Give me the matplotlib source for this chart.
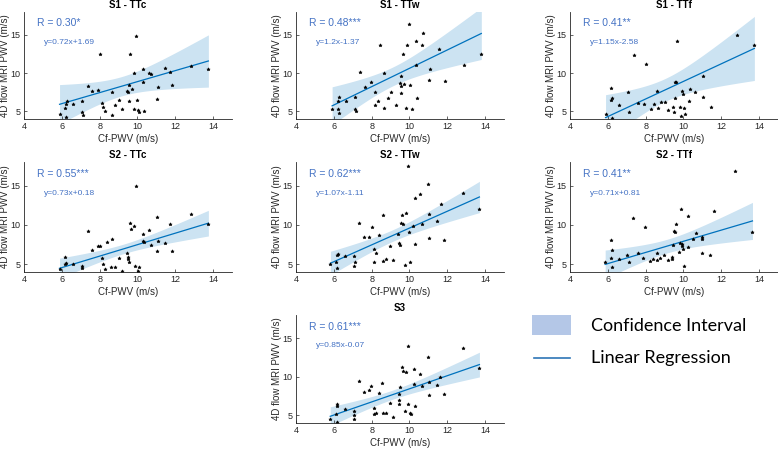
import numpy as np
import matplotlib
matplotlib.use("Agg")
import matplotlib.pyplot as plt
from matplotlib.patches import Rectangle
from matplotlib.lines import Line2D

plt.rcParams['font.family'] = ['Liberation Sans', 'DejaVu Sans']

# data (Cf-PWV vs 4D flow MRI PWV, m/s)
s1_ttc_x = [5.88, 6.18, 6.2, 6.2, 6.25, 6.59, 7.08, 7.08, 7.13, 7.37, 7.62, 7.9, 8.02, 8.15, 8.17,
            8.27, 8.63, 8.63, 8.8, 9.0, 9.2, 9.46, 9.48, 9.55, 9.57, 9.63, 9.7, 9.8, 9.84, 9.93,
            9.98, 10.03, 10.07, 10.27, 10.29, 10.33, 10.6, 10.72, 11.04, 11.07, 11.48, 11.7, 11.85, 12.85, 13.75]
s1_ttc_y = [4.64, 5.45, 5.9, 4.3, 6.4, 6.0, 6.34, 4.94, 4.47, 8.3, 7.7, 7.8, 12.5, 6.13, 5.53,
            5.1, 7.5, 4.47, 5.83, 6.5, 5.36, 7.7, 7.57, 8.47, 6.3, 12.47, 7.87, 5.3, 9.96, 14.8,
            6.5, 5.15, 4.98, 8.8, 10.5, 5.06, 9.96, 9.83, 6.64, 8.13, 10.68, 10.17, 8.47, 10.98, 10.5]

s1_ttw_x = [5.91, 6.2, 6.23, 6.27, 6.27, 6.64, 7.12, 7.12, 7.19, 7.4, 7.65, 7.94, 8.2, 8.2, 8.33,
            8.45, 8.66, 8.68, 8.86, 9.04, 9.27, 9.51, 9.53, 9.55, 9.57, 9.65, 9.73, 9.83, 9.89, 10.0,
            10.03, 10.12, 10.33, 10.35, 10.38, 10.65, 10.74, 11.06, 11.1, 11.54, 11.9, 12.88, 13.8]
s1_ttw_y = [5.3, 5.36, 6.4, 6.94, 4.85, 6.4, 6.94, 5.36, 5.1, 10.17, 8.2, 8.8, 7.57, 5.83, 6.3,
            13.74, 10.0, 5.45, 6.77, 7.57, 5.83, 8.77, 8.34, 7.36, 9.57, 12.47, 8.6, 5.45, 13.74, 16.47,
            8.5, 5.3, 14.2, 11.0, 6.72, 13.7, 15.3, 9.1, 10.55, 13.2, 9.0, 11.1, 12.5]

s1_ttf_x = [5.88, 6.16, 6.18, 6.21, 6.23, 6.6, 7.08, 7.14, 7.38, 7.62, 7.9, 8.02, 8.27, 8.43, 8.6,
            8.64, 8.8, 9.0, 9.2, 9.46, 9.48, 9.53, 9.55, 9.62, 9.67, 9.8, 9.86, 9.93, 9.96, 10.05,
            10.07, 10.3, 10.33, 10.61, 11.04, 11.06, 11.48, 12.85, 13.75]
s1_ttf_y = [4.6, 6.43, 8.04, 4.08, 6.72, 5.83, 7.5, 4.9, 12.4, 6.13, 6.0, 11.15, 5.36, 5.9, 7.63,
            5.45, 6.17, 6.17, 5.23, 5.53, 4.94, 8.85, 6.72, 8.8, 14.23, 5.53, 4.38, 7.7, 7.28, 5.4,
            4.68, 6.38, 7.87, 7.53, 6.9, 9.57, 5.53, 15.0, 13.7]

s2_ttc_x = [5.88, 6.16, 6.18, 6.21, 6.6, 7.07, 7.08, 7.37, 7.62, 7.9, 8.02, 8.15, 8.17, 8.27, 8.4,
            8.6, 8.63, 8.8, 9.0, 9.2, 9.46, 9.48, 9.52, 9.55, 9.62, 9.68, 9.84, 9.87, 9.93, 10.03,
            10.07, 10.27, 10.29, 10.33, 10.6, 10.72, 11.04, 11.04, 11.07, 11.48, 11.7, 11.85, 12.85, 13.75]
s2_ttc_y = [4.42, 4.98, 5.92, 5.1, 4.98, 4.72, 4.55, 9.23, 6.78, 7.25, 7.25, 5.84, 5.02, 4.38, 7.76,
            4.64, 8.24, 4.64, 5.75, 4.08, 6.48, 5.88, 5.62, 5.32, 10.3, 9.44, 9.91, 4.76, 14.98, 4.12,
            4.68, 8.84, 7.98, 7.85, 9.36, 7.42, 10.94, 6.65, 7.94, 7.68, 10.09, 6.7, 11.37, 10.09]

s2_ttw_x = [5.82, 6.12, 6.16, 6.18, 6.21, 6.58, 7.06, 7.06, 7.1, 7.35, 7.61, 7.88, 8.0, 8.12, 8.12,
            8.23, 8.39, 8.6, 8.62, 8.76, 8.97, 9.15, 9.42, 9.45, 9.52, 9.54, 9.6, 9.66, 9.77, 9.84,
            9.91, 9.95, 10.04, 10.21, 10.27, 10.28, 10.58, 10.65, 11.0, 11.03, 11.04, 11.47, 11.65, 11.82, 12.81, 13.7]
s2_ttw_y = [5.0, 5.3, 6.15, 4.57, 6.24, 6.03, 6.03, 4.79, 5.3, 10.2, 8.42, 8.42, 9.7, 6.92, 5.3,
            6.37, 8.76, 11.28, 5.34, 5.68, 7.35, 5.47, 8.85, 7.65, 7.48, 10.2, 11.2, 10.13, 4.9, 11.54,
            17.44, 9.06, 5.3, 9.87, 13.46, 7.52, 13.97, 10.09, 15.26, 8.38, 11.41, 10.47, 12.6, 8.03, 14.1, 12.05]

s2_ttf_x = [5.86, 6.16, 6.18, 6.21, 6.21, 6.6, 7.04, 7.1, 7.33, 7.6, 7.88, 7.98, 8.25, 8.39, 8.58,
            8.61, 8.77, 8.96, 9.16, 9.42, 9.42, 9.47, 9.51, 9.56, 9.63, 9.74, 9.81, 9.88, 9.93, 9.93,
            10.0, 10.02, 10.23, 10.23, 10.53, 10.65, 10.96, 10.98, 11.0, 11.4, 11.6, 12.75, 13.65]
s2_ttf_y = [5.24, 5.84, 8.07, 6.82, 4.64, 5.7, 6.14, 5.24, 10.9, 6.44, 5.8, 9.7, 5.36, 5.62, 6.44,
            5.5, 5.84, 6.14, 5.58, 5.92, 5.7, 7.5, 9.18, 9.14, 10.13, 6.57, 7.73, 11.97, 7.55, 7.3,
            6.87, 4.76, 7.17, 11.07, 8.15, 8.93, 8.15, 6.48, 8.5, 6.22, 11.8, 16.9, 9.14]

s3_x = [5.81, 6.11, 6.15, 6.15, 6.18, 6.57, 7.05, 7.05, 7.09, 7.33, 7.58, 7.87, 7.99, 8.11, 8.15,
        8.22, 8.38, 8.57, 8.59, 8.75, 8.95, 9.14, 9.43, 9.43, 9.46, 9.51, 9.58, 9.66, 9.76, 9.82,
        9.9, 9.94, 10.05, 10.06, 10.22, 10.24, 10.28, 10.58, 10.65, 11.0, 11.02, 11.02, 11.46, 11.64, 11.82, 12.81, 13.7]
s3_y = [4.55, 5.19, 6.22, 4.08, 6.44, 5.84, 5.62, 4.55, 5.06, 9.4, 8.03, 8.33, 8.84, 5.92, 5.15,
        5.28, 7.9, 9.23, 5.32, 5.32, 6.65, 4.76, 7.73, 7.0, 6.48, 8.67, 11.29, 10.73, 5.54, 10.6,
        13.95, 6.44, 5.32, 5.19, 10.94, 9.06, 6.22, 10.3, 8.84, 12.58, 9.36, 7.64, 8.93, 10.0, 7.77, 13.78, 11.16]

titles = ["S1 - TTc", "S1 - TTw", "S1 - TTf", "S2 - TTc", "S2 - TTw", "S2 - TTf", "S3"]
r_values = [0.30, 0.48, 0.41, 0.55, 0.62, 0.41, 0.61]
r_stars = ["*", "***", "**", "***", "***", "**", "***"]
slopes = [0.72, 1.2, 1.15, 0.73, 1.07, 0.71, 0.85]
intercepts = [1.69, -1.37, -2.58, 0.18, -1.11, 0.81, -0.07]
eq_labels = ["y=0.72x+1.69", "y=1.2x-1.37", "y=1.15x-2.58", "y=0.73x+0.18",
             "y=1.07x-1.11", "y=0.71x+0.81", "y=0.85x-0.07"]
xs = [s1_ttc_x, s1_ttw_x, s1_ttf_x, s2_ttc_x, s2_ttw_x, s2_ttf_x, s3_x]
ys = [s1_ttc_y, s1_ttw_y, s1_ttf_y, s2_ttc_y, s2_ttw_y, s2_ttf_y, s3_y]

band_color = "#cce3f2"
line_color = "#0072bd"
text_color = "#4472c4"
axis_color = "#262626"

W, H = 778, 451
fig = plt.figure(figsize=(W / 100, H / 100), dpi=100)

# pixel boxes for each panel
col_left = [24, 296, 570]
row_top = [12, 162, 315]
row_h = [107, 110, 108]
slots = [(0, 0), (0, 1), (0, 2), (1, 0), (1, 1), (1, 2), (2, 1)]

for i, (r, c) in enumerate(slots):
    ax = fig.add_axes([col_left[c] / W, 1 - (row_top[r] + row_h[r]) / H, 208 / W, row_h[r] / H])
    x = np.array(xs[i])
    y = np.array(ys[i])
    a, b, R = slopes[i], intercepts[i], r_values[i]
    # 95% confidence band of the fit; residual sd from the reported slope and R
    # (some points fall outside the shown y range)
    n = len(x)
    sx = x.std()
    s = a * sx * np.sqrt(1 - R ** 2) / R
    xx = np.linspace(x.min(), x.max(), 100)
    hw = 2.02 * s / np.sqrt(n) * np.sqrt(1 + (xx - x.mean()) ** 2 / sx ** 2)
    yy = a * xx + b
    ax.fill_between(xx, yy - hw, yy + hw, color=band_color, lw=0)
    ax.plot(xx, yy, color=line_color, lw=0.9)
    ax.plot(x, y, '*', color='k', ms=2.5, mew=0.4)
    ax.text(4.7, 16.5, "R = %.2f%s" % (R, r_stars[i]), color=text_color, fontsize=7.5, va='center')
    ax.text(5.05, 14.0, eq_labels[i], color=text_color, fontsize=6, va='center')
    ax.set_xlim(4, 15)
    ax.set_ylim(4, 18)
    ax.set_xticks([4, 6, 8, 10, 12, 14])
    ax.set_yticks([5, 10, 15])
    ax.set_title(titles[i], fontsize=7, fontweight='bold', pad=3)
    ax.set_xlabel("Cf-PWV (m/s)", fontsize=7, labelpad=2, color=axis_color)
    ax.set_ylabel("4D flow MRI PWV (m/s)", fontsize=7, labelpad=0.5, color=axis_color)
    ax.tick_params(labelsize=6.5, direction='in', length=2, width=0.5, colors=axis_color, pad=2.5)
    for sp in ['top', 'right']:
        ax.spines[sp].set_visible(False)
    for sp in ['left', 'bottom']:
        ax.spines[sp].set_linewidth(0.6)
        ax.spines[sp].set_color(axis_color)

# hand-drawn legend like the reference
fig.add_artist(Rectangle((532 / W, 1 - 335 / H), 39 / W, 20 / H, transform=fig.transFigure,
                         color="#b4c7e7", lw=0))
fig.add_artist(Line2D([534 / W, 570 / W], [1 - 358 / H, 1 - 358 / H], transform=fig.transFigure,
                      color="#2e75b6", lw=1.2))
fig.text(591 / W, 1 - 326 / H, "Confidence Interval", fontsize=13, family='Lato', va='center')
fig.text(591 / W, 1 - 358 / H, "Linear Regression", fontsize=13, family='Lato', va='center')

fig.savefig("out.png", dpi=100)
